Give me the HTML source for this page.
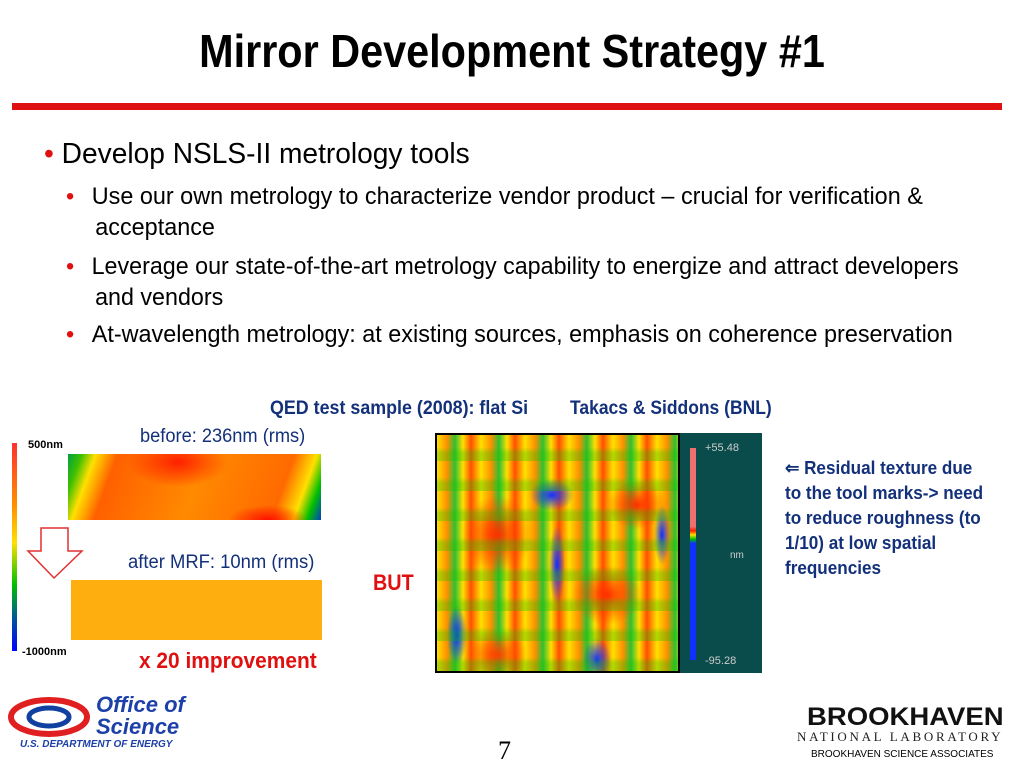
<!DOCTYPE html>
<html><head><meta charset="utf-8"><style>
body{margin:0;width:1024px;height:768px;background:#fff;position:relative;overflow:hidden;font-family:"Liberation Sans",sans-serif;}
.a{position:absolute;white-space:nowrap;transform-origin:0 0;}
</style></head><body>
<div class="a" style="left:0;width:1024px;top:24px;text-align:center;font-size:46px;font-weight:bold;color:#000;transform:scaleX(0.9);transform-origin:512px 0;">Mirror Development Strategy #1</div>
<div class="a" style="left:12px;top:103px;width:990px;height:7px;background:#e01010;"></div>
<div class="a" style="left:44px;top:138px;font-size:29px;color:#000;transform:scaleX(0.97);"><span style="color:#e01010">•</span> Develop NSLS-II metrology tools</div>
<div class="a" style="left:66px;top:181px;font-size:24px;line-height:31px;color:#000;transform:scaleX(0.975);"><span style="color:#e01010;margin-right:18px">•</span>Use our own metrology to characterize vendor product – crucial for verification &amp;<br><span style="margin-left:30px">acceptance</span></div>
<div class="a" style="left:66px;top:251px;font-size:24px;line-height:31px;color:#000;transform:scaleX(0.97);"><span style="color:#e01010;margin-right:18px">•</span>Leverage our state-of-the-art metrology capability to energize and attract developers<br><span style="margin-left:30px">and vendors</span></div>
<div class="a" style="left:66px;top:321px;font-size:24px;color:#000;transform:scaleX(0.975);"><span style="color:#e01010;margin-right:18px">•</span>At-wavelength metrology: at existing sources, emphasis on coherence preservation</div>
<div class="a" style="left:270px;top:398px;font-size:19px;font-weight:bold;color:#13307a;transform:scaleX(0.94);">QED test sample (2008): flat Si</div>
<div class="a" style="left:570px;top:398px;font-size:19px;font-weight:bold;color:#13307a;transform:scaleX(0.92);">Takacs &amp; Siddons (BNL)</div>
<div class="a" style="left:12px;top:443px;width:5px;height:208px;background:linear-gradient(#ff3030,#ff9000 30%,#ffe000 48%,#00c000 68%,#0050a0 85%,#0000ff);"></div>
<div class="a" style="left:28px;top:439px;font-size:11px;font-weight:bold;">500nm</div>
<div class="a" style="left:22px;top:646px;font-size:11px;font-weight:bold;">-1000nm</div>
<div class="a" style="left:140px;top:426px;font-size:19px;color:#13307a;transform:scaleX(0.96);">before: 236nm (rms)</div>
<div class="a" style="left:68px;top:454px;width:253px;height:66px;background:radial-gradient(ellipse 50px 25px at 110px 8px,#ff2000,transparent),radial-gradient(ellipse 40px 15px at 200px 66px,#ff1000,transparent),linear-gradient(110deg,#00a040 0%,#40c000 5%,#ffe000 10%,#ff6000 18%,#ff8a00 50%,#ff6a00 82%,#ffe000 90%,#00c000 95%,#0040c0 100%);"></div>
<svg class="a" style="left:26px;top:527px" width="60" height="54"><polygon points="15,1 42,1 42,24 56,24 28,51 2,24 15,24" fill="#fff" stroke="#e03030" stroke-width="1.5"/></svg>
<div class="a" style="left:128px;top:552px;font-size:19px;color:#13307a;transform:scaleX(0.97);">after MRF: 10nm (rms)</div>
<div class="a" style="left:71px;top:580px;width:251px;height:60px;background:#ffae10;"></div>
<div class="a" style="left:139px;top:648px;font-size:22px;font-weight:bold;color:#e01010;transform:scaleX(0.95);">x 20 improvement</div>
<div class="a" style="left:373px;top:570px;font-size:22px;font-weight:bold;color:#e01010;transform:scaleX(0.9);">BUT</div>
<div class="a" style="left:435px;top:433px;width:245px;height:240px;background:
radial-gradient(ellipse 22px 16px at 115px 60px,#1030ff,transparent),
radial-gradient(ellipse 14px 22px at 160px 225px,#1030ff,transparent),
radial-gradient(ellipse 10px 30px at 20px 200px,#1030ff,transparent),
radial-gradient(ellipse 8px 40px at 120px 130px,#1030ff,transparent),
radial-gradient(ellipse 8px 30px at 225px 100px,#1030ff,transparent),
radial-gradient(ellipse 35px 40px at 60px 100px,#ff3000,transparent),
radial-gradient(ellipse 35px 30px at 170px 160px,#ff3000,transparent),
radial-gradient(ellipse 30px 25px at 60px 220px,#ff4000,transparent),
radial-gradient(ellipse 30px 25px at 200px 70px,#ff3000,transparent),
repeating-linear-gradient(90deg,#ffe000 0,#ff9000 10px,#30c030 18px,#ffe000 26px,#ff5000 34px,#ffe000 44px),
#ff0;border:2px solid #000;box-sizing:border-box;"></div>
<div class="a" style="left:437px;top:435px;width:241px;height:236px;background:repeating-linear-gradient(0deg,rgba(0,200,0,.3) 0,rgba(0,200,0,.3) 8px,transparent 14px,transparent 30px);"></div>
<div class="a" style="left:680px;top:433px;width:82px;height:240px;background:#0a4b4b;"></div>
<div class="a" style="left:690px;top:448px;width:6px;height:212px;background:linear-gradient(#f07070 0,#f07070 37%,#ff2000 39%,#ffe000 41%,#00c000 43%,#1030ff 45%,#1030ff 100%);"></div>
<div class="a" style="left:705px;top:442px;font-size:11px;color:#ccc;">+55.48</div>
<div class="a" style="left:730px;top:550px;font-size:10px;color:#ccc;">nm</div>
<div class="a" style="left:705px;top:655px;font-size:11px;color:#ccc;">-95.28</div>
<div class="a" style="left:785px;top:456px;font-size:18px;line-height:25px;font-weight:bold;color:#13307a;transform:scaleX(0.95);">⇐ Residual texture due<br>to the tool marks-&gt; need<br>to reduce roughness (to<br>1/10) at low spatial<br>frequencies</div>
<div class="a" style="left:8px;top:696px;width:82px;height:42px;">
<svg width="82" height="42"><ellipse cx="41" cy="21" rx="38" ry="17" fill="none" stroke="#e02020" stroke-width="6"/><ellipse cx="41" cy="21" rx="20" ry="9" fill="none" stroke="#1040a0" stroke-width="5"/></svg></div>
<div class="a" style="left:96px;top:694px;font-size:22px;line-height:22px;font-weight:bold;font-style:italic;color:#1c40a8;">Office of<br>Science</div>
<div class="a" style="left:20px;top:739px;font-size:10px;font-weight:bold;font-style:italic;color:#1c40a8;">U.S. DEPARTMENT OF ENERGY</div>
<div class="a" style="left:498px;top:736px;font-size:26px;font-family:'Liberation Serif',serif;">7</div>
<div class="a" style="left:807px;top:703px;font-size:25px;font-weight:900;color:#111;transform:scaleX(1.1);">BROOKHAVEN</div>
<div class="a" style="left:797px;top:729px;font-size:13px;letter-spacing:2.7px;font-family:'Liberation Serif',serif;color:#222;">NATIONAL LABORATORY</div>
<div class="a" style="left:811px;top:749px;font-size:10px;">BROOKHAVEN SCIENCE ASSOCIATES</div>
</body></html>
